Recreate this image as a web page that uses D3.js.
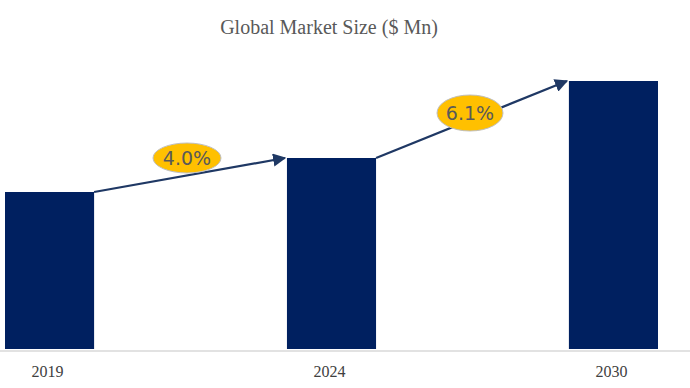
<!DOCTYPE html>
<html>
<head>
<meta charset="utf-8">
<script src="https://cdn.jsdelivr.net/npm/d3@7"></script>
<style>
  body { margin: 0; background: #fff; }
  svg { display: block; }
</style>
</head>
<body>
<svg width="690" height="388"></svg>
<script>
var years = ["2019", "2024", "2030"];
var values = [157, 191, 268];
var growth = ["4.0%", "6.1%"];

var svg = d3.select("svg");

var x = d3.scaleBand()
    .domain(years)
    .range([5, 658])
    .paddingInner(0.684)
    .paddingOuter(0);

var y = d3.scaleLinear()
    .domain([0, d3.max(values)])
    .range([349, 81]);

// title
svg.append("text")
    .attr("x", 329)
    .attr("y", 34)
    .attr("text-anchor", "middle")
    .style("font-family", "'Liberation Serif', 'Times New Roman', serif")
    .style("font-size", "20px")
    .style("fill", "#595959")
    .text("Global Market Size ($ Mn)");

// bars
svg.selectAll(".bar")
    .data(years)
    .enter().append("rect")
    .attr("class", "bar")
    .attr("x", function(d) { return x(d); })
    .attr("y", function(d, i) { return y(values[i]); })
    .attr("width", x.bandwidth())
    .attr("height", function(d, i) { return y(0) - y(values[i]); })
    .style("fill", "#002060");

// axis line
svg.append("line")
    .attr("x1", 0)
    .attr("x2", 690)
    .attr("y1", y(0) + 2)
    .attr("y2", y(0) + 2)
    .style("stroke", "#d9d9d9")
    .style("stroke-width", 1.5);

// axis labels
svg.selectAll(".year")
    .data(years)
    .enter().append("text")
    .attr("class", "year")
    .attr("x", function(d) { return x(d) + x.bandwidth() / 2 - 2; })
    .attr("y", 377)
    .attr("text-anchor", "middle")
    .style("font-family", "'Liberation Serif', 'Times New Roman', serif")
    .style("font-size", "16px")
    .style("fill", "#404040")
    .text(function(d) { return d; });

// arrows
var defs = svg.append("defs");
defs.append("marker")
    .attr("id", "head")
    .attr("viewBox", "0 0 10 10")
    .attr("refX", 9)
    .attr("refY", 5)
    .attr("markerWidth", 6)
    .attr("markerHeight", 6)
    .attr("orient", "auto")
    .append("path")
    .attr("d", "M0,0 L10,5 L0,10 z")
    .style("fill", "#1f3864");

var links = growth.map(function(g, i) {
    return {
        label: g,
        x1: x(years[i]) + x.bandwidth(),
        y1: y(values[i]),
        x2: x(years[i + 1]) - 2,
        y2: y(values[i + 1])
    };
});

svg.selectAll(".arrow")
    .data(links)
    .enter().append("line")
    .attr("class", "arrow")
    .attr("x1", function(d) { return d.x1; })
    .attr("y1", function(d) { return d.y1; })
    .attr("x2", function(d) { return d.x2; })
    .attr("y2", function(d) { return d.y2; })
    .style("stroke", "#1f3864")
    .style("stroke-width", 2.2)
    .attr("marker-end", "url(#head)");

// growth bubbles
var bubblePos = [[187, 158, 34, 15], [470, 113, 33, 18]];

var bubbles = svg.selectAll(".bubble")
    .data(links)
    .enter().append("g")
    .attr("class", "bubble")
    .attr("transform", function(d, i) { return "translate(" + bubblePos[i][0] + "," + bubblePos[i][1] + ")"; });

bubbles.append("ellipse")
    .attr("rx", function(d, i) { return bubblePos[i][2]; })
    .attr("ry", function(d, i) { return bubblePos[i][3]; })
    .style("fill", "#ffc000")
    .style("stroke", "#bfbfbf")
    .style("stroke-width", 1);

bubbles.append("text")
    .attr("y", 7)
    .attr("text-anchor", "middle")
    .style("font-family", "'DejaVu Sans', sans-serif")
    .style("font-size", "19px")
    .style("fill", "#595959")
    .text(function(d) { return d.label; });
</script>
</body>
</html>
